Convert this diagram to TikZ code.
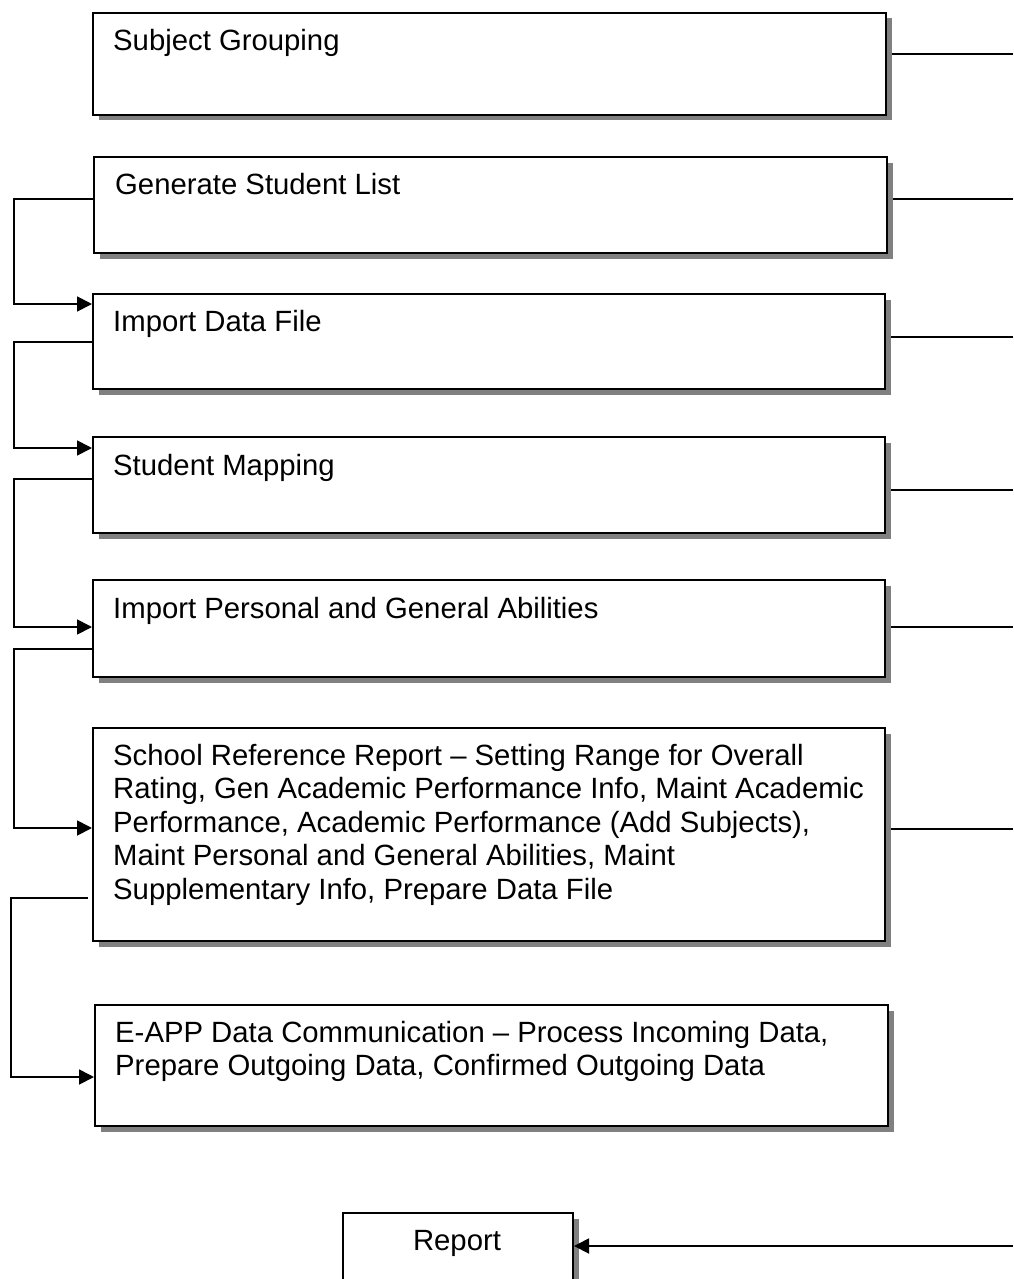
\documentclass[tikz,border=0pt]{standalone}
\usepackage{fontspec}
\setmainfont{Liberation Sans}
\usetikzlibrary{arrows.meta,shadows,calc}
\begin{document}
\begin{tikzpicture}[x=1pt,y=-1pt,
  procbox/.style={draw=black, line width=2pt, fill=white, rectangle, inner sep=0pt,
    anchor=north west,
    drop shadow={shadow xshift=5.5pt, shadow yshift=-5.5pt, fill=black!50, draw=none, opacity=1}},
  lbl/.style={anchor=base west, inner sep=0pt, font=\fontsize{29.3}{33.6}\selectfont},
  conn/.style={line width=1.8pt},
  arr/.style={conn, -{Triangle[length=15pt,width=15pt]}}]
\clip (0,0) rectangle (1013,1279);
\fill[white] (0,0) rectangle (1013,1279);

% boxes
\node[procbox, minimum width=793pt, minimum height=102pt] (b1) at (92,12) {};
\node[procbox, minimum width=793pt, minimum height=96pt]  (b2) at (93,156) {};
\node[procbox, minimum width=792pt, minimum height=95pt]  (b3) at (92,293) {};
\node[procbox, minimum width=792pt, minimum height=96pt]  (b4) at (92,436) {};
\node[procbox, minimum width=792pt, minimum height=97pt]  (b5) at (92,579) {};
\node[procbox, minimum width=792pt, minimum height=213pt] (b6) at (92,727) {};
\node[procbox, minimum width=793pt, minimum height=121pt] (b7) at (94,1004) {};
\node[procbox, minimum width=230pt, minimum height=120pt] (rep) at (342,1212) {};

% labels
\node[lbl] (t1) at (113,51) {Subject Grouping};
\node[lbl] (t2) at (115,194) {Generate Student List};
\node[lbl] (t3) at (113,331) {Import Data File};
\node[lbl] (t4) at (113,475) {Student Mapping};
\node[lbl] (t5) at (113,618) {Import Personal and General Abilities};
\node[lbl] (t6) at (113,765) {\begin{tabular}[t]{@{}l@{}}School Reference Report – Setting Range for Overall\\
Rating, Gen Academic Performance Info, Maint Academic\\
Performance, Academic Performance (Add Subjects),\\
Maint Personal and General Abilities, Maint\\
Supplementary Info, Prepare Data File\end{tabular}};
\node[lbl] (t7) at (115,1042) {\begin{tabular}[t]{@{}l@{}}E-APP Data Communication – Process Incoming Data,\\
Prepare Outgoing Data, Confirmed Outgoing Data\end{tabular}};
\node[lbl, anchor=base] (t8) at (457,1250) {Report};

% right-hand connectors
\coordinate (e1) at (1013,54);
\coordinate (e2) at (1013,199);
\coordinate (e3) at (1013,337);
\coordinate (e4) at (1013,490);
\coordinate (e5) at (1013,627);
\coordinate (e6) at (1013,829);
\coordinate (e7) at (1013,1246);
\draw[conn] ($(b1.east|-e1)+(5,0)$) -- (e1);
\draw[conn] ($(b2.east|-e2)+(5,0)$) -- (e2);
\draw[conn] ($(b3.east|-e3)+(5,0)$) -- (e3);
\draw[conn] ($(b4.east|-e4)+(5,0)$) -- (e4);
\draw[conn] ($(b5.east|-e5)+(5,0)$) -- (e5);
\draw[conn] ($(b6.east|-e6)+(5,0)$) -- (e6);
\draw[arr] (e7) -- (rep.east|-e7);

% left-hand loops
\draw[arr] (b2.west|-0,199) -- (14,199) |- (b3.west|-0,304);
\draw[arr] (b3.west|-0,342) -- (14,342) |- (b4.west|-0,448);
\draw[arr] (b4.west|-0,479) -- (14,479) |- (b5.west|-0,627);
\draw[arr] (b5.west|-0,649) -- (14,649) |- (b6.west|-0,828);
\draw[arr] ($(b6.west|-0,898)+(-4,0)$) -- (11,898) |- (b7.west|-0,1077);
\end{tikzpicture}
\end{document}
